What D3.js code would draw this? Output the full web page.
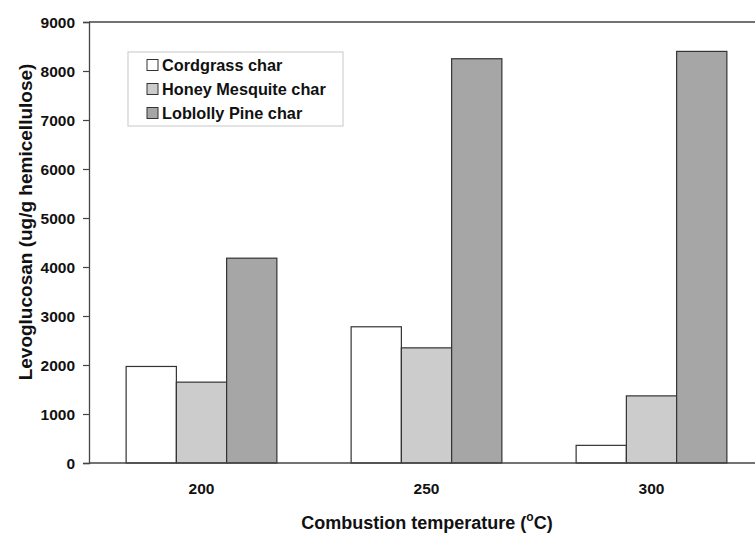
<!DOCTYPE html>
<html>
<head>
<meta charset="utf-8">
<script src="https://cdn.jsdelivr.net/npm/d3@7"></script>
<style>
  body { margin: 0; background: #fff; }
  svg { display: block; }
  text { font-family: "Liberation Sans", Arial, sans-serif; font-weight: bold; fill: #111; }
</style>
</head>
<body>
<svg id="chart" width="755" height="533"></svg>
<script>
// Combustion temperatures (°C)
const temperatures = ["200", "250", "300"];
// Char types
const seriesNames = ["Cordgrass char", "Honey Mesquite char", "Loblolly Pine char"];
// Levoglucosan yields (ug/g hemicellulose), one value per temperature
const cordgrass = [1970, 2780, 360];
const honeyMesquite = [1650, 2350, 1370];
const loblollyPine = [4180, 8250, 8400];
const yTicks = [0, 1000, 2000, 3000, 4000, 5000, 6000, 7000, 8000, 9000];

const seriesValues = [cordgrass, honeyMesquite, loblollyPine];
const fills = ["#ffffff", "#cccccc", "#a6a6a6"];

const svg = d3.select("#chart");
const plotLeft = 89, plotTop = 22, plotBottom = 463, plotRight = 755;

const x0 = d3.scaleBand().domain(temperatures).range([plotLeft, 764])
  .paddingInner(0.33).paddingOuter(0.165);
const x1 = d3.scaleBand().domain(seriesNames).range([0, x0.bandwidth()]);
const y = d3.scaleLinear().domain([0, 9000]).range([plotBottom, plotTop]);

// Bars
const groups = svg.append("g").selectAll("g")
  .data(temperatures).join("g")
  .attr("transform", d => `translate(${x0(d)},0)`);
groups.selectAll("rect")
  .data((d, i) => seriesNames.map((s, k) => ({ s, k, v: seriesValues[k][i] })))
  .join("rect")
  .attr("x", d => x1(d.s))
  .attr("y", d => y(d.v))
  .attr("width", x1.bandwidth())
  .attr("height", d => y(0) - y(d.v))
  .attr("fill", d => fills[d.k])
  .attr("stroke", "#333")
  .attr("stroke-width", 1.2);

// Frame lines: top and baseline
svg.append("line").attr("x1", plotLeft).attr("x2", plotRight).attr("y1", plotTop).attr("y2", plotTop)
  .attr("stroke", "#444").attr("stroke-width", 1.3);
svg.append("line").attr("x1", plotLeft).attr("x2", plotRight).attr("y1", plotBottom).attr("y2", plotBottom)
  .attr("stroke", "#444").attr("stroke-width", 1.3);

// Y axis
const yAxis = svg.append("g").attr("transform", `translate(${plotLeft},0)`)
  .call(d3.axisLeft(y).tickValues(yTicks).tickSize(6).tickFormat(d3.format("d")));
yAxis.select(".domain").attr("stroke", "#444").attr("stroke-width", 1.3);
yAxis.selectAll(".tick line").attr("stroke", "#444").attr("stroke-width", 1.2);
yAxis.selectAll(".tick text")
  .attr("x", -14).attr("dy", "0.36em")
  .attr("font-size", 15.5).attr("font-family", null)
  .attr("fill", "#111");

// X axis labels
const xAxis = svg.append("g").attr("transform", `translate(0,${plotBottom})`)
  .call(d3.axisBottom(x0).tickSize(0));
xAxis.select(".domain").remove();
xAxis.selectAll(".tick text")
  .attr("y", 31).attr("dy", null)
  .attr("font-size", 15.5).attr("font-family", null)
  .attr("fill", "#111");

// Axis titles
const xt = svg.append("text")
  .attr("x", 427).attr("y", 529)
  .attr("text-anchor", "middle").attr("font-size", 18);
xt.append("tspan").text("Combustion temperature (");
xt.append("tspan").text("o").attr("font-size", 12).attr("dy", -8);
xt.append("tspan").text("C)").attr("dy", 8);

svg.append("text")
  .attr("transform", "translate(32,222) rotate(-90)")
  .attr("text-anchor", "middle").attr("font-size", 19)
  .text("Levoglucosan (ug/g hemicellulose)");

// Legend
const legend = svg.append("g");
legend.append("rect").attr("x", 128).attr("y", 52).attr("width", 215).attr("height", 74)
  .attr("fill", "#fff").attr("stroke", "#d0d0d0").attr("stroke-width", 1.2);
const item = legend.selectAll("g.item").data(seriesNames).join("g")
  .attr("class", "item")
  .attr("transform", (d, i) => `translate(147,${65 + i * 24})`);
item.append("rect").attr("x", 0).attr("y", -5.5).attr("width", 11).attr("height", 11)
  .attr("fill", (d, i) => fills[i]).attr("stroke", "#333").attr("stroke-width", 1);
item.append("text")
  .attr("x", 15).attr("y", 6)
  .attr("font-size", 16.3)
  .text(d => d);
</script>
</body>
</html>
